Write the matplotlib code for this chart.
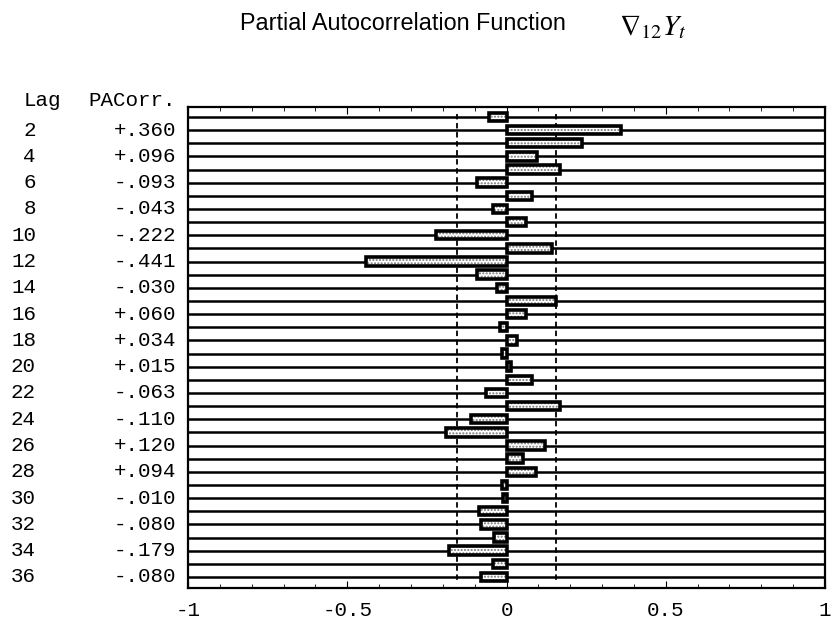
import numpy as np
import matplotlib.pyplot as plt
from matplotlib.ticker import MultipleLocator

# PACF of the seasonally differenced series, lags 1..36
lags = np.arange(1, 37)
pacf = [-0.055, 0.360, 0.238, 0.096, 0.169, -0.093, 0.080, -0.043, 0.060, -0.222,
        0.143, -0.441, -0.092, -0.030, 0.154, 0.060, -0.019, 0.034, -0.015, 0.015,
        0.080, -0.063, 0.169, -0.110, -0.189, 0.120, 0.052, 0.094, -0.013, -0.010,
        -0.087, -0.080, -0.038, -0.179, -0.043, -0.080]
bound = 0.154
xticks = [-1, -0.5, 0, 0.5, 1]
xticklabels = ['-1', '-0.5', '0', '0.5', '1']

W, H = 833, 622
fig = plt.figure(figsize=(W / 100, H / 100), dpi=100)
ax = fig.add_axes([188 / W, 1 - 588 / H, (825 - 188) / W, (588 - 107) / H])

mono = 'Liberation Mono'
fs = 15

# one rule per lag
ax.hlines(lags, -1, 1, color='black', lw=1.8, zorder=1)
# significance limits
ax.vlines([-bound, bound], 0.8, 36.2, color='black', lw=1.3,
          linestyles=(0, (3, 2)), zorder=2)

# bars: speckled fill then heavy outline
ax.barh(lags, pacf, height=0.64, color='white', edgecolor='#777777',
        hatch='.....', lw=0, zorder=3)
ax.barh(lags, pacf, height=0.64, fill=False, edgecolor='black', lw=2.6, zorder=4)

ax.set_xlim(-1, 1)
ax.set_ylim(36.84, 0.24)
ax.set_yticks([])
ax.set_xticks(xticks)
ax.set_xticklabels(xticklabels, fontfamily=mono, fontsize=fs)
ax.xaxis.set_minor_locator(MultipleLocator(0.1))
ax.tick_params(axis='x', which='both', direction='in', top=True, pad=9)
ax.tick_params(axis='x', which='major', length=5)
ax.tick_params(axis='x', which='minor', length=3)
for s in ax.spines.values():
    s.set_linewidth(1.6)

# left-hand table of even lags
fig.text(24 / W, 1 - 101 / H, 'Lag', fontfamily=mono, fontsize=fs, va='center')
fig.text(176 / W, 1 - 101 / H, 'PACorr.', fontfamily=mono, fontsize=fs,
         va='center', ha='right')
for lag, v in zip(lags, pacf):
    if lag % 2:
        continue
    y = ax.transData.transform((0, lag))[1] / fig.dpi / (H / 100)
    fig.text(36 / W, y, str(lag), fontfamily=mono, fontsize=fs, va='center', ha='right')
    txt = ('+' if v >= 0 else '-') + ('%.3f' % abs(v))[1:]
    fig.text(176 / W, y, txt, fontfamily=mono, fontsize=fs, va='center', ha='right')

fig.text(403 / W, 1 - 30 / H, 'Partial Autocorrelation Function',
         fontfamily='Liberation Sans', fontsize=16.8, ha='center', va='baseline')
fig.text(619 / W, 1 - 35 / H, r'$\nabla_{12}Y_t$', fontsize=21,
         math_fontfamily='stix', ha='left', va='baseline')

fig.savefig('out.png', dpi=100)
